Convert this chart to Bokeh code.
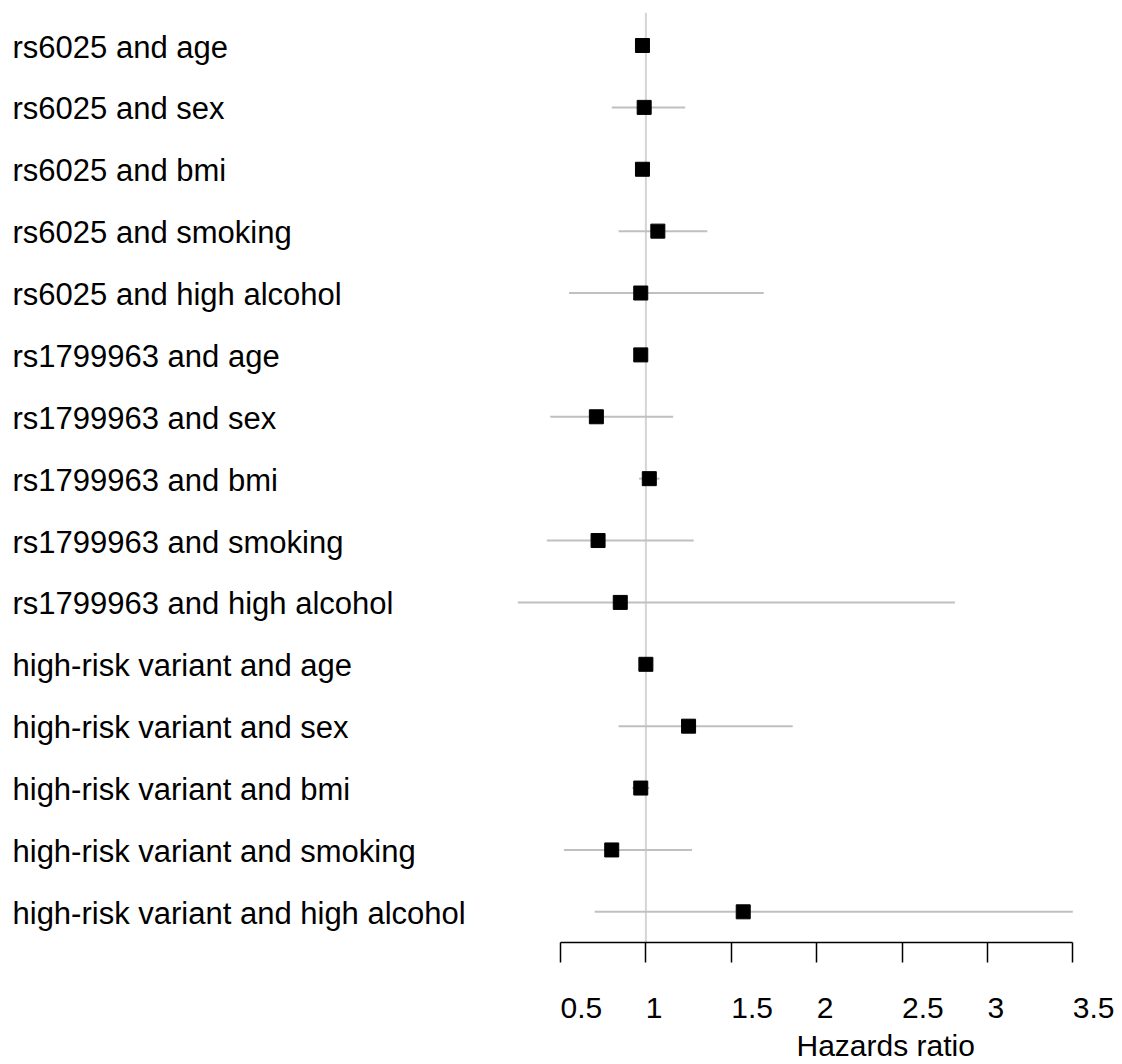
from bokeh.plotting import figure
from bokeh.models import (ColumnDataSource, Range1d, FixedTicker, LinearAxis, Span,
                          LabelSet, Title)
from bokeh.core.properties import value
from bokeh.embed import file_html
from bokeh.resources import INLINE

# ---------------- data ----------------
labels = [
    "rs6025 and age",
    "rs6025 and sex",
    "rs6025 and bmi",
    "rs6025 and smoking",
    "rs6025 and high alcohol",
    "rs1799963 and age",
    "rs1799963 and sex",
    "rs1799963 and bmi",
    "rs1799963 and smoking",
    "rs1799963 and high alcohol",
    "high-risk variant and age",
    "high-risk variant and sex",
    "high-risk variant and bmi",
    "high-risk variant and smoking",
    "high-risk variant and high alcohol",
]
hazard_ratio = [0.98, 0.99, 0.98, 1.07, 0.97, 0.97, 0.71, 1.02, 0.72, 0.85,
                1.00, 1.25, 0.97, 0.80, 1.57]
ci_lower = [0.96, 0.80, 0.96, 0.84, 0.55, 0.95, 0.44, 0.96, 0.42, 0.25,
            0.98, 0.84, 0.92, 0.52, 0.70]
ci_upper = [1.00, 1.23, 1.00, 1.36, 1.69, 0.99, 1.16, 1.08, 1.28, 2.81,
            1.02, 1.86, 1.02, 1.27, 3.50]
tick_values = [0.5, 1, 1.5, 2, 2.5, 3, 3.5]
tick_labels = ["0.5", "1", "1.5", "2", "2.5", "3", "3.5"]
x_title = "Hazards ratio"
reference_value = 1

# ---------------- layout ----------------
W, H = 1122, 1064
TOP, BOTTOM = 12, 122
AX_LEFT_PX, AX_RIGHT_PX = 560.0, 1072.3
ppu = (AX_RIGHT_PX - AX_LEFT_PX) / (tick_values[-1] - tick_values[0])
x_start = tick_values[0] - AX_LEFT_PX / ppu
x_end = tick_values[-1] + (W - AX_RIGHT_PX) / ppu

n = len(labels)
rows = list(range(1, n + 1))
ROW_PITCH = 61.88
FIRST_ROW_PX = 45.0
frame_h = H - TOP - BOTTOM
y_top = 1 - (FIRST_ROW_PX - TOP) / ROW_PITCH
y_bottom = y_top + frame_h / ROW_PITCH

FONT = "Liberation Sans"
NBSP = "\u00a0"


def left_anchored(t):
    # tick labels in the reference start at the tick (left aligned); the axis
    # centres its labels, so pad on the left with an equal-width invisible run
    # (digit = 2 nbsp, period = 1 nbsp in Liberation Sans metrics)
    n_pad = sum(2 if ch.isdigit() else 1 for ch in t)
    return NBSP * n_pad + t


src = ColumnDataSource(dict(row=rows, label=labels, hr=hazard_ratio,
                            lower=ci_lower, upper=ci_upper))

p = figure(width=W, height=H,
           x_range=Range1d(x_start, x_end),
           y_range=Range1d(y_bottom, y_top),
           output_backend="svg", toolbar_location=None,
           x_axis_location=None, y_axis_location=None,
           min_border_left=0, min_border_right=0,
           min_border_top=TOP, min_border_bottom=BOTTOM)
p.outline_line_color = None
p.background_fill_color = "white"
p.border_fill_color = "white"
p.grid.visible = False

ax = LinearAxis(ticker=FixedTicker(ticks=tick_values),
                bounds=(tick_values[0], tick_values[-1]),
                major_label_overrides={v: left_anchored(t)
                                       for v, t in zip(tick_values, tick_labels)},
                major_tick_out=20, major_tick_in=0,
                minor_tick_out=0, minor_tick_in=0,
                axis_line_width=1.5, major_tick_line_width=1.5,
                axis_line_color="black", major_tick_line_color="black",
                major_label_standoff=28,
                major_label_text_font=FONT,
                major_label_text_font_size="30px",
                major_label_text_color="black")
p.add_layout(ax, "below")

xlab = Title(text=x_title, align="left", offset=796, standoff=0,
             text_font=FONT, text_font_size="30px", text_font_style="normal",
             text_color="black")
p.add_layout(xlab, "below")

ref = Span(location=reference_value, dimension="height",
           line_color="#d4d4d4", line_width=2, level="underlay")
p.add_layout(ref)

p.segment(x0="lower", y0="row", x1="upper", y1="row", source=src,
          line_color="#c0c0c0", line_width=2)
p.scatter(x="hr", y="row", marker="square", size=14, source=src,
          fill_color="black", line_color="black")

row_labels = LabelSet(x=12, x_units="screen", y="row", text="label",
                      y_offset=-12, source=src, text_font=value(FONT),
                      text_font_size=value("31px"), text_color="black",
                      text_baseline="alphabetic", text_align="left")
p.add_layout(row_labels)

open("out.html", "w").write(file_html(p, INLINE))
